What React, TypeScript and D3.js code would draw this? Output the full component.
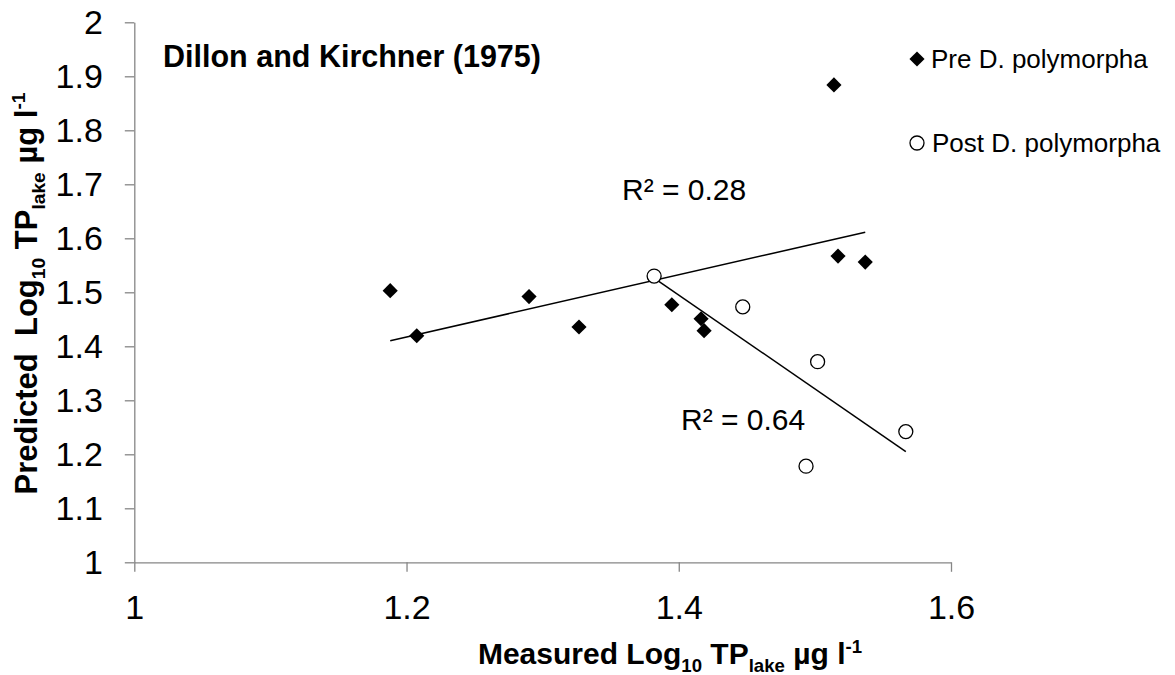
import { useRef, useEffect } from 'react';
import * as d3 from 'd3';

const W = 1175;
const H = 675;
const FONT = '"Liberation Sans", Arial, sans-serif';

// axis ticks
const xTicks = [1, 1.2, 1.4, 1.6];
const yTicks = [1, 1.1, 1.2, 1.3, 1.4, 1.5, 1.6, 1.7, 1.8, 1.9, 2];

// Pre D. polymorpha (measured, predicted)
const preX = [1.188, 1.2075, 1.29, 1.3267, 1.3949, 1.4164, 1.4186, 1.514, 1.517, 1.537];
const preY = [1.503, 1.4196, 1.492, 1.4357, 1.477, 1.451, 1.429, 1.884, 1.567, 1.556];

// Post D. polymorpha
const postX = [1.3819, 1.447, 1.502, 1.4935, 1.5668];
const postY = [1.53, 1.473, 1.3715, 1.178, 1.242];

const seriesNames = ['Pre D. polymorpha', 'Post D. polymorpha'];
const r2Labels = ['R² = 0.28', 'R² = 0.64'];

function fit(xs: number[], ys: number[]) {
  const mx = d3.mean(xs) as number;
  const my = d3.mean(ys) as number;
  const sxy = d3.sum(xs, (x, i) => (x - mx) * (ys[i] - my));
  const sxx = d3.sum(xs, (x) => (x - mx) * (x - mx));
  const b = sxy / sxx;
  const a = my - b * mx;
  const [x0, x1] = d3.extent(xs) as [number, number];
  return [
    { x: x0, y: a + b * x0 },
    { x: x1, y: a + b * x1 },
  ];
}

// text with sub/superscript pieces
function rich(sel: any, parts: [string, string?][], size: number) {
  let shift = 0;
  parts.forEach(([t, kind]) => {
    const target = kind === 'sub' ? size * 0.25 : kind === 'sup' ? -size * 0.38 : 0;
    sel
      .append('tspan')
      .attr('dy', target - shift)
      .attr('font-size', kind ? size * 0.62 : size)
      .text(t);
    shift = target;
  });
}

function Chart() {
  const svgRef = useRef<SVGSVGElement>(null);

  useEffect(() => {
    const svg = d3.select(svgRef.current);
    svg.selectAll('*').remove();

    const x = d3.scaleLinear().domain([1, 1.6]).range([134.3, 951]);
    const y = d3.scaleLinear().domain([1, 2]).range([562.3, 22.3]);

    const axisColor = '#868686';

    // y axis
    const yAxis = svg
      .append('g')
      .attr('transform', `translate(${x(1)},0)`)
      .call(
        d3
          .axisLeft(y)
          .tickValues(yTicks)
          .tickSize(9.5)
          .tickSizeOuter(0)
          .tickPadding(22)
          .tickFormat((d) => String(+(+d).toFixed(1)))
      );

    // x axis
    const xAxis = svg
      .append('g')
      .attr('transform', `translate(0,${y(1)})`)
      .call(
        d3
          .axisBottom(x)
          .tickValues(xTicks)
          .tickSize(9.5)
          .tickSizeOuter(0)
          .tickPadding(23)
          .tickFormat((d) => String(+(+d).toFixed(1)))
      );

    [yAxis, xAxis].forEach((ax) => {
      ax.select('.domain').attr('stroke', axisColor).attr('stroke-width', 1.3);
      ax.selectAll('.tick line').attr('stroke', axisColor).attr('stroke-width', 1.3);
      ax.selectAll('.tick text')
        .attr('fill', '#000')
        .attr('font-family', FONT)
        .attr('font-size', 34);
    });

    // trend lines
    const line = d3
      .line<{ x: number; y: number }>()
      .x((d) => x(d.x))
      .y((d) => y(d.y));

    [fit(preX, preY), fit(postX, postY)].forEach((pts) => {
      svg
        .append('path')
        .attr('d', line(pts))
        .attr('fill', 'none')
        .attr('stroke', '#000')
        .attr('stroke-width', 1.5);
    });

    const diamond = d3.symbol().type(d3.symbolSquare).size(115);

    // pre points
    svg
      .append('g')
      .selectAll('path')
      .data(preX.map((v, i) => [v, preY[i]]))
      .join('path')
      .attr('d', diamond)
      .attr('transform', (d) => `translate(${x(d[0])},${y(d[1])}) rotate(45)`)
      .attr('fill', '#000');

    // post points
    svg
      .append('g')
      .selectAll('circle')
      .data(postX.map((v, i) => [v, postY[i]]))
      .join('circle')
      .attr('cx', (d) => x(d[0]))
      .attr('cy', (d) => y(d[1]))
      .attr('r', 7)
      .attr('fill', '#fff')
      .attr('stroke', '#000')
      .attr('stroke-width', 1.3);

    // R² labels
    svg
      .append('text')
      .attr('x', 622)
      .attr('y', 200)
      .attr('font-family', FONT)
      .attr('font-size', 30)
      .text(r2Labels[0]);
    svg
      .append('text')
      .attr('x', 681)
      .attr('y', 430)
      .attr('font-family', FONT)
      .attr('font-size', 30)
      .text(r2Labels[1]);

    // panel title
    svg
      .append('text')
      .attr('x', 163)
      .attr('y', 67)
      .attr('font-family', FONT)
      .attr('font-weight', 'bold')
      .attr('font-size', 30.5)
      .text('Dillon and Kirchner (1975)');

    // legend
    const legend = svg.append('g').attr('font-family', FONT).attr('font-size', 26);
    legend
      .append('path')
      .attr('d', diamond)
      .attr('transform', 'translate(917,59) rotate(45)')
      .attr('fill', '#000');
    legend.append('text').attr('x', 931).attr('y', 68).text(seriesNames[0]);
    legend
      .append('circle')
      .attr('cx', 917)
      .attr('cy', 143)
      .attr('r', 7)
      .attr('fill', '#fff')
      .attr('stroke', '#000')
      .attr('stroke-width', 1.3);
    legend.append('text').attr('x', 932).attr('y', 152).text(seriesNames[1]);

    // axis titles
    const xt = svg
      .append('text')
      .attr('x', 670)
      .attr('y', 664)
      .attr('text-anchor', 'middle')
      .attr('font-family', FONT)
      .attr('font-weight', 'bold')
      .attr('font-size', 30);
    rich(
      xt,
      [['Measured Log'], ['10', 'sub'], [' TP'], ['lake', 'sub'], [' µg l'], ['-1', 'sup'], ['', undefined]],
      30
    );

    const yt = svg
      .append('text')
      .attr('transform', `translate(37,293.5) rotate(-90)`)
      .attr('text-anchor', 'middle')
      .attr('font-family', FONT)
      .attr('font-weight', 'bold')
      .attr('font-size', 31)
      .attr('xml:space', 'preserve');
    rich(
      yt,
      [['Predicted  Log'], ['10', 'sub'], [' TP'], ['lake', 'sub'], [' µg l'], ['-1', 'sup'], ['', undefined]],
      31
    );
  }, []);

  return (
    <svg
      ref={svgRef}
      width={W}
      height={H}
      style={{ position: 'absolute', left: 0, top: 0, background: '#fff' }}
    />
  );
}

export default function App() {
  return <Chart />;
}
